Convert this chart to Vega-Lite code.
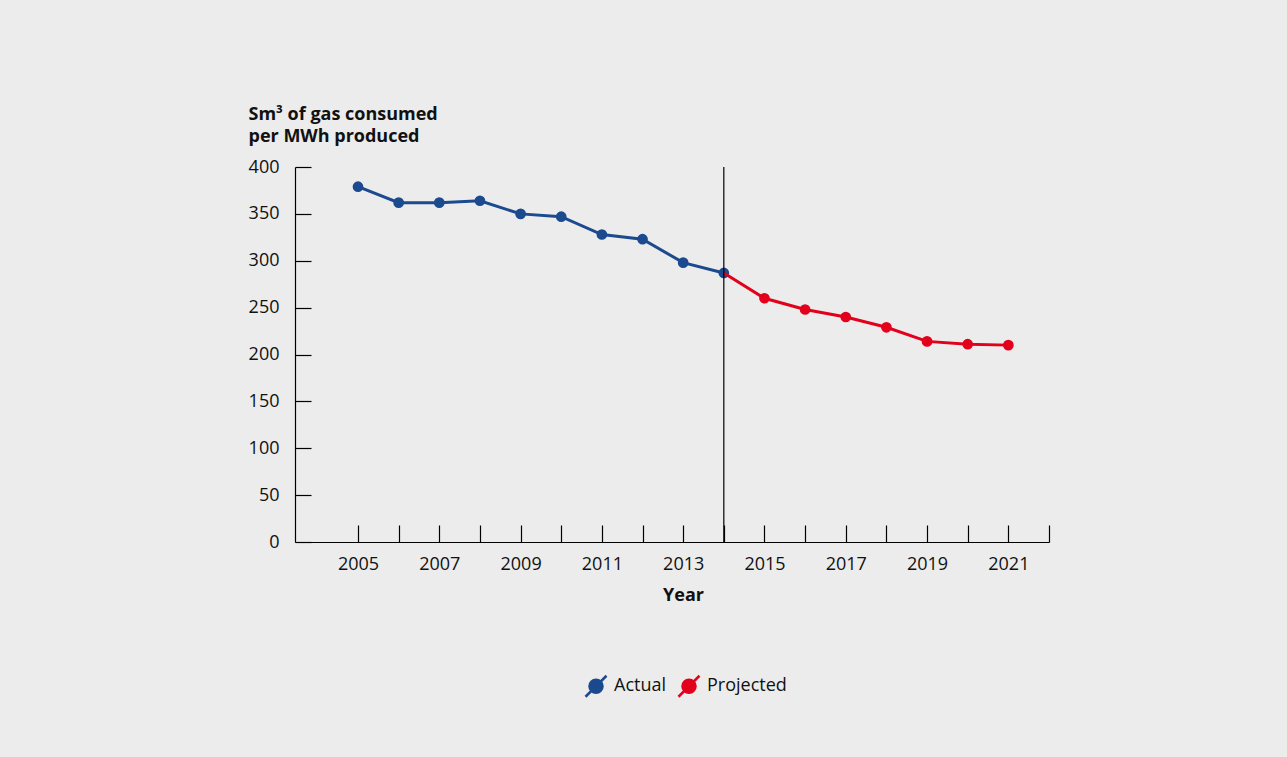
{
  "$schema": "https://vega.github.io/schema/vega-lite/v6.json",
  "autosize": {"type": "none"},
  "width": 754,
  "height": 375,
  "padding": {"left": 295, "top": 167, "right": 238, "bottom": 215},
  "background": "#ececec",
  "config": {
    "view": {"stroke": null},
    "font": "Open Sans",
    "axis": {
      "grid": false,
      "domainColor": "#000000",
      "domainWidth": 1.2,
      "tickColor": "#000000",
      "tickWidth": 1.2,
      "labelFont": "Open Sans",
      "labelFontSize": 18,
      "labelColor": "#111111",
      "titleFont": "Open Sans",
      "titleFontSize": 18,
      "titleFontWeight": "bold",
      "titleColor": "#111111"
    }
  },
  "datasets": {
    "gas": [
      {"year": 2005, "value": 379, "series": "Actual"},
      {"year": 2006, "value": 362, "series": "Actual"},
      {"year": 2007, "value": 362, "series": "Actual"},
      {"year": 2008, "value": 364, "series": "Actual"},
      {"year": 2009, "value": 350, "series": "Actual"},
      {"year": 2010, "value": 347, "series": "Actual"},
      {"year": 2011, "value": 328, "series": "Actual"},
      {"year": 2012, "value": 323, "series": "Actual"},
      {"year": 2013, "value": 298, "series": "Actual"},
      {"year": 2014, "value": 287, "series": "Actual"},
      {"year": 2014, "value": 287, "series": "Projected"},
      {"year": 2015, "value": 260, "series": "Projected"},
      {"year": 2016, "value": 248, "series": "Projected"},
      {"year": 2017, "value": 240, "series": "Projected"},
      {"year": 2018, "value": 229, "series": "Projected"},
      {"year": 2019, "value": 214, "series": "Projected"},
      {"year": 2020, "value": 211, "series": "Projected"},
      {"year": 2021, "value": 210, "series": "Projected"}
    ],
    "divider": [{"year": 2014}]
  },
  "encoding": {
    "x": {
      "field": "year",
      "type": "quantitative",
      "scale": {"domain": [2003.45, 2022], "nice": false, "zero": false},
      "axis": {
        "title": "Year",
        "values": [2005, 2006, 2007, 2008, 2009, 2010, 2011, 2012, 2013, 2014, 2015, 2016, 2017, 2018, 2019, 2020, 2021, 2022],
        "labelExpr": "datum.value % 2 == 1 ? datum.value : ''",
        "format": "d",
        "tickSize": -17,
        "labelPadding": 30,
        "labelBaseline": "top",
        "titleX": 388,
        "titleY": 58,
        "titleBaseline": "alphabetic",
        "titleAnchor": "start",
        "titleAlign": "center"
      }
    }
  },
  "layer": [
    {
      "data": {"name": "gas"},
      "transform": [{"filter": "datum.series == 'Actual'"}],
      "mark": {"type": "line", "strokeWidth": 3},
      "encoding": {
        "y": {
          "field": "value",
          "type": "quantitative",
          "scale": {"domain": [0, 400], "nice": false},
          "axis": {
            "title": ["Sm³ of gas consumed", "per MWh produced"],
            "titleAngle": 0,
            "titleAlign": "left",
            "titleAnchor": "start",
            "titleBaseline": "alphabetic",
            "titleX": -47,
            "titleY": -48,
            "titleLineHeight": 22,
            "values": [0, 50, 100, 150, 200, 250, 300, 350, 400],
            "tickSize": -16,
            "labelPadding": 32,
            "labelAlign": "right",
            "labelBaseline": "middle"
          }
        },
        "color": {
          "field": "series",
          "type": "nominal",
          "scale": {"domain": ["Actual", "Projected"], "range": ["#1b4a8e", "#e3001b"]},
          "legend": {
            "title": null,
            "orient": "none",
            "direction": "horizontal",
            "legendX": 289,
            "legendY": 507,
            "padding": 0,
            "symbolType": "M-0.62,0 A0.62,0.62 0 1,0 0.62,0 A0.62,0.62 0 1,0 -0.62,0 Z M-1,1 L1,-1",
            "symbolSize": 441,
            "symbolStrokeWidth": 2.5,
            "labelFont": "Open Sans",
            "labelFontSize": 18,
            "labelColor": "#111111",
            "labelOffset": 6,
            "columnPadding": 6,
            "encode": {
              "symbols": {
                "update": {
                  "fill": {"scale": "color", "field": "value"},
                  "stroke": {"scale": "color", "field": "value"},
                  "opacity": {"value": 1},
                  "fillOpacity": {"value": 1}
                }
              }
            }
          }
        }
      }
    },
    {
      "data": {"name": "gas"},
      "transform": [{"filter": "datum.series == 'Actual'"}],
      "mark": {"type": "point", "filled": true, "size": 115, "opacity": 1},
      "encoding": {
        "y": {"field": "value", "type": "quantitative"},
        "color": {"field": "series", "type": "nominal"}
      }
    },
    {
      "data": {"name": "gas"},
      "transform": [{"filter": "datum.series == 'Projected'"}],
      "mark": {"type": "line", "strokeWidth": 3},
      "encoding": {
        "y": {"field": "value", "type": "quantitative"},
        "color": {"field": "series", "type": "nominal"}
      }
    },
    {
      "data": {"name": "gas"},
      "transform": [{"filter": "datum.series == 'Projected' && datum.year > 2014"}],
      "mark": {"type": "point", "filled": true, "size": 115, "opacity": 1},
      "encoding": {
        "y": {"field": "value", "type": "quantitative"},
        "color": {"field": "series", "type": "nominal"}
      }
    },
    {
      "data": {"name": "divider"},
      "mark": {"type": "rule", "color": "#000000", "strokeWidth": 1.2},
      "encoding": {"x": {"field": "year", "type": "quantitative"}}
    }
  ]
}
